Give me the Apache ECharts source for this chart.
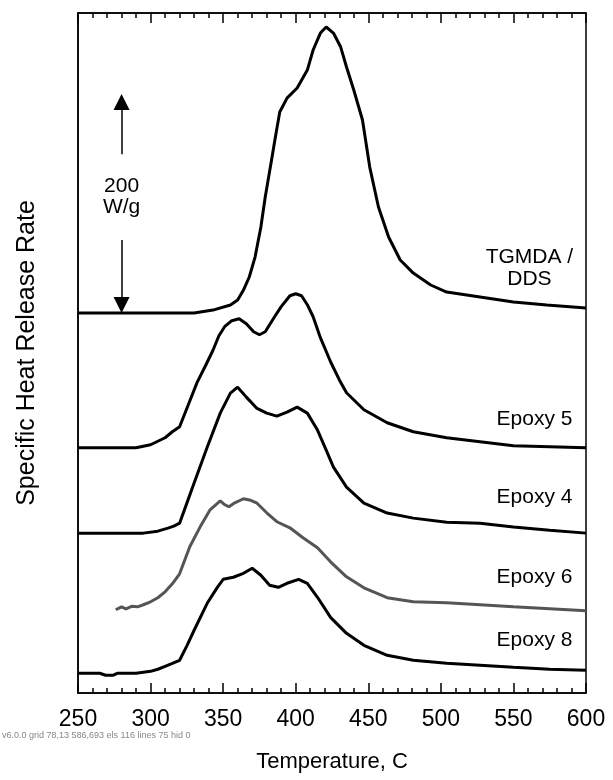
<!DOCTYPE html>
<html>
<head>
<meta charset="utf-8">
<title>Specific Heat Release Rate</title>
<script src="https://cdn.jsdelivr.net/npm/echarts@6/dist/echarts.min.js"></script>
<style>
  html, body { margin: 0; padding: 0; background: #fff; }
  #main { width: 613px; height: 780px; }
  #dbg { position: absolute; left: 2px; top: 730px; width: 200px; font: 9px sans-serif; color: #888; }
</style>
</head>
<body>
<div id="main"></div>
<div id="dbg"></div>
<script>
// heat release rate (W/g), [temperature C, value above its own baseline]
const tgmda = [[250,0],[330,0],[343,2.7],[355,7.3],[360,11.9],[364,21],[368,32.9],[372,51.1],[376,78.5],[379,105.9],[383,137],[386,160.7],[389,183.6],[394,196.3],[401,205.5],[408,221.9],[412,240.2],[417,255.7],[421,261.2],[426,255.7],[431,242.9],[435,224.7],[440,203.7],[446,176.3],[451,133.3],[457,96.8],[464,69.4],[472,48.4],[481,36.5],[493,25.6],[504,19.2],[527,14.6],[550,10],[573,7.3],[600,4.6]];
const epoxy5 = [[250,0],[290,0],[300,2.7],[310,9.1],[315,14.6],[320,19.2],[326,39.3],[332,59.4],[338,75.3],[343,89],[347,102],[351,110.5],[356,116],[361,117.8],[366,113.2],[371,105.9],[375,103.2],[379,105.9],[385,118.7],[390,128.8],[396,138.8],[400,140.6],[404,138.8],[408,130.6],[412,119.6],[417,100.5],[424,78.5],[430,62.1],[435,50.2],[447,34.7],[463,22.8],[481,14.6],[504,9.1],[527,5.5],[550,1.8],[575,0.9],[600,0]];
const epoxy4 = [[250,0],[295,0],[305,1.8],[312,4.6],[316,6.4],[320,9.1],[325,27.4],[330,45.7],[339,78.5],[348,109.6],[355,127.9],[360,133.3],[366,124.2],[373,114.2],[380,109.6],[387,106.8],[394,110.5],[401,115.1],[408,109.6],[415,94.1],[421,75.8],[426,60.3],[435,42],[447,27.4],[463,18.3],[481,13.7],[504,10],[527,9.1],[550,5.5],[575,2.7],[600,0]];
const epoxy6 = [[276,0],[280,2.7],[283,0.9],[287,3.2],[291,2.7],[295,4.6],[300,7.3],[305,11],[310,16.4],[315,23.7],[320,32.9],[327,57.5],[334,75.3],[341,91.3],[348,99.5],[351,96],[354,94.1],[358,97.7],[364,101.4],[369,100],[373,97.7],[380,88.6],[387,80.4],[396,74.9],[405,65.8],[415,56.6],[424,43.8],[435,30.1],[447,20.1],[463,11],[481,7.3],[504,6.4],[527,4.6],[550,2.7],[575,0.9],[600,-0.9]];
const epoxy8 = [[250,0],[265,0],[269,-1.8],[274,-1.8],[277,0],[290,0],[300,1.8],[305,3.7],[310,6.4],[315,9.1],[320,11.9],[325,25.1],[330,39.3],[339,63.9],[346,78.5],[350,85.8],[357,87.7],[364,91.3],[370,95.9],[376,89.5],[382,80.4],[388,78.5],[394,82.2],[402,85.8],[408,82.2],[415,69.4],[424,51.1],[435,36.5],[447,25.6],[463,16.4],[481,11.9],[504,9.1],[527,7.3],[550,5.5],[575,3.7],[600,2.7]];

const curves = [tgmda, epoxy5, epoxy4, epoxy6, epoxy8];
const names = ['TGMDA /\nDDS', 'Epoxy 5', 'Epoxy 4', 'Epoxy 6', 'Epoxy 8'];
// vertical shift of each curve in the stack (W/g)
const offsets = [347, 224, 146, 76, 18];
const xRange = [250, 600];
const yRange = [0, 621];
const majorStep = 50;
const minorStep = 10;
// scale bar: 200 W/g drawn up from the TGMDA baseline at 280 C
const scaleBarT = 280;
const scaleBar = [347, 547];

const colors = ['#000', '#000', '#000', '#555', '#000'];
const labelAt = [[561, 388, 'center'], [591, 250, 'right'], [591, 179, 'right'], [591, 106, 'right'], [591, 48, 'right']];
const font = 'Liberation Sans, Arial, sans-serif';
const head = 7.3; // half the arrow head, in W/g

function xAxis(pos, labels) {
  return {
    type: 'value', position: pos, min: xRange[0], max: xRange[1], interval: majorStep,
    axisLine: { show: true, onZero: false, lineStyle: { color: '#000', width: 1.5 } },
    axisTick: { show: true, inside: true, length: 10, lineStyle: { color: '#000', width: 1.5 } },
    minorTick: { show: true, splitNumber: majorStep / minorStep, length: 5, lineStyle: { color: '#000', width: 1.5 } },
    axisLabel: { show: labels, fontSize: 23, color: '#000', fontFamily: font, margin: 15 },
    splitLine: { show: false },
    name: labels ? 'Temperature, C' : '',
    nameLocation: 'middle', nameGap: 58,
    nameTextStyle: { fontSize: 22, color: '#000', fontFamily: font }
  };
}

const series = curves.map((c, i) => ({
  name: names[i],
  type: 'line',
  symbol: 'none',
  silent: true,
  lineStyle: { color: colors[i], width: 3 },
  data: c.map(p => [p[0], p[1] + offsets[i]]),
  markPoint: {
    silent: true, symbol: 'circle', symbolSize: 1,
    itemStyle: { color: 'rgba(0,0,0,0)' },
    label: {
      show: true, formatter: names[i], fontSize: 21, lineHeight: 22, color: '#000', fontFamily: font,
      position: labelAt[i][2] === 'right' ? 'left' : 'inside', distance: 0
    },
    data: [{ coord: [labelAt[i][0], labelAt[i][1]] }]
  }
}));

// scale bar arrows and text
series.push({
  type: 'line', data: [], silent: true,
  markLine: {
    silent: true, symbol: ['none', 'triangle'], symbolSize: [16, 16],
    lineStyle: { color: '#000', width: 1.5, type: 'solid' },
    label: { show: false },
    data: [
      [{ coord: [scaleBarT, 492] }, { coord: [scaleBarT, scaleBar[1] - head] }],
      [{ coord: [scaleBarT, 413.7] }, { coord: [scaleBarT, scaleBar[0] + head] }]
    ]
  },
  markPoint: {
    silent: true, symbol: 'circle', symbolSize: 1,
    itemStyle: { color: 'rgba(0,0,0,0)' },
    label: { show: true, position: 'inside', formatter: (scaleBar[1] - scaleBar[0]) + '\nW/g',
      fontSize: 21, lineHeight: 21, color: '#000', fontFamily: font },
    data: [{ coord: [scaleBarT, (492 + 413.7) / 2] }]
  }
});

const chart = echarts.init(document.getElementById('main'));
chart.setOption({
  animation: false,
  grid: {
    left: 78, right: 27, top: 13, bottom: 87,
    containLabel: false, outerBoundsMode: 'none',
    show: true, borderColor: '#000', borderWidth: 1.5
  },
  xAxis: [xAxis('bottom', true), xAxis('top', false)],
  yAxis: [{
    type: 'value', min: yRange[0], max: yRange[1],
    axisLine: { show: true, onZero: false, lineStyle: { color: '#000', width: 1.5 } },
    axisTick: { show: false }, axisLabel: { show: false }, splitLine: { show: false },
    name: 'Specific Heat Release Rate', nameLocation: 'middle', nameGap: 38,
    nameTextStyle: { fontSize: 25, color: '#000', fontFamily: font }
  }],
  series: series
});

// diagnostics: where the grid ended up and how many line shapes were drawn
try {
  const p0 = chart.convertToPixel({ gridIndex: 0 }, [xRange[0], yRange[1]]);
  const p1 = chart.convertToPixel({ gridIndex: 0 }, [xRange[1], yRange[0]]);
  const list = chart.getZr().storage.getDisplayList(true);
  let lines = 0, hidden = 0;
  list.forEach(el => { if (el.type === 'line') { lines++; if (el.invisible || el.ignore) hidden++; } });
  document.getElementById('dbg').textContent = 'v' + echarts.version + ' grid ' + p0.map(Math.round) + ' ' + p1.map(Math.round) +
    ' els ' + list.length + ' lines ' + lines + ' hid ' + hidden;
} catch (e) {
  document.getElementById('dbg').textContent = 'err ' + e.message;
}
</script>
</body>
</html>
